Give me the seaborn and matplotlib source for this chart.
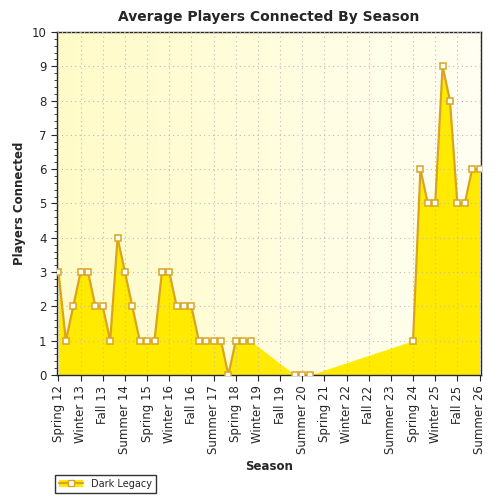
import numpy as np
import matplotlib
matplotlib.use("Agg")
import matplotlib.pyplot as plt
import seaborn as sns
from matplotlib.ticker import MultipleLocator
from matplotlib.lines import Line2D
from matplotlib.patches import Patch
from matplotlib.legend_handler import HandlerTuple

tick_labels = ["Spring 12", "Winter 13", "Fall 13", "Summer 14", "Spring 15", "Winter 16",
               "Fall 16", "Summer 17", "Spring 18", "Winter 19", "Fall 19", "Summer 20",
               "Spring 21", "Winter 22", "Fall 22", "Summer 23", "Spring 24", "Winter 25",
               "Fall 25", "Summer 26"]
# point positions (one third of a label step) and values
seasons = list(range(0, 27)) + [32, 33, 34] + list(range(48, 58))
players = [3, 1, 2, 3, 3, 2, 2, 1, 4, 3, 2, 1, 1, 1, 3, 3, 2, 2, 2, 1, 1, 1, 1, 0, 1, 1, 1,
           0, 0, 0,
           1, 6, 5, 5, 9, 8, 5, 5, 6, 6]

sns.set_style("white")
plt.rcParams["font.family"] = ["DejaVu Sans"]
fig = plt.figure(figsize=(5, 5), dpi=100)
ax = fig.add_axes([0.114, 0.25, 0.848, 0.686])

x = np.array(seasons, dtype=float)
y = np.array(players, dtype=float)

# background gradient
grad = np.linspace(0, 1, 256).reshape(1, -1)
bg = matplotlib.colors.LinearSegmentedColormap.from_list("bg", ["#FFFBC8", "#FFFFF2"])
ax.imshow(grad, extent=[-0.2, 57.2, 0, 10], aspect="auto", cmap=bg, zorder=0)

ax.fill_between(x, y, 0, color="#FFEA00", zorder=1, linewidth=0)

# line segments only between consecutive points
breaks = np.where(np.diff(x) > 1)[0] + 1
for xs, ys in zip(np.split(x, breaks), np.split(y, breaks)):
    sns.lineplot(x=xs, y=ys, ax=ax, color="#D9A520", linewidth=1.6, marker="s", markersize=5,
                 markerfacecolor="white", markeredgecolor="#D9A520", markeredgewidth=1.1,
                 zorder=3, label=None)

ax.set_xlim(-0.2, 57.2)
ax.set_ylim(0, 10)
ax.set_xticks(range(0, 58, 3))
ax.set_xticklabels(tick_labels, rotation=90, fontsize=8.5)
ax.set_yticks(range(0, 11))
ax.tick_params(axis="y", labelsize=8.5, length=4)
ax.tick_params(axis="x", length=4)
ax.yaxis.set_minor_locator(MultipleLocator(0.2))
ax.tick_params(axis="y", which="minor", length=2, left=True)
ax.tick_params(axis="both", which="major", bottom=True, left=True)
ax.grid(True, color="#BBBBBB", linestyle=(0, (1, 3)), linewidth=0.8, zorder=0.5)
ax.set_axisbelow(False)
for s in ax.spines.values():
    s.set_linewidth(1)
ax.set_title("Average Players Connected By Season", fontsize=10, fontweight="bold", pad=8)
ax.set_xlabel("Season", fontsize=8.5, fontweight="bold")
ax.set_ylabel("Players Connected", fontsize=8.5, fontweight="bold")

h = (Patch(facecolor="#FFEA00", edgecolor="none"),
     Line2D([], [], color="#D9A520", lw=1.6, marker="s", markerfacecolor="white",
            markeredgecolor="#D9A520", markersize=5))
fig.legend([h], ["Dark Legacy"], loc="lower left", bbox_to_anchor=(0.1, 0.005), fontsize=7,
           frameon=True, fancybox=False, edgecolor="black", handlelength=2.5,
           handler_map={tuple: HandlerTuple(ndivide=1)})

fig.savefig("out.png", dpi=100)
